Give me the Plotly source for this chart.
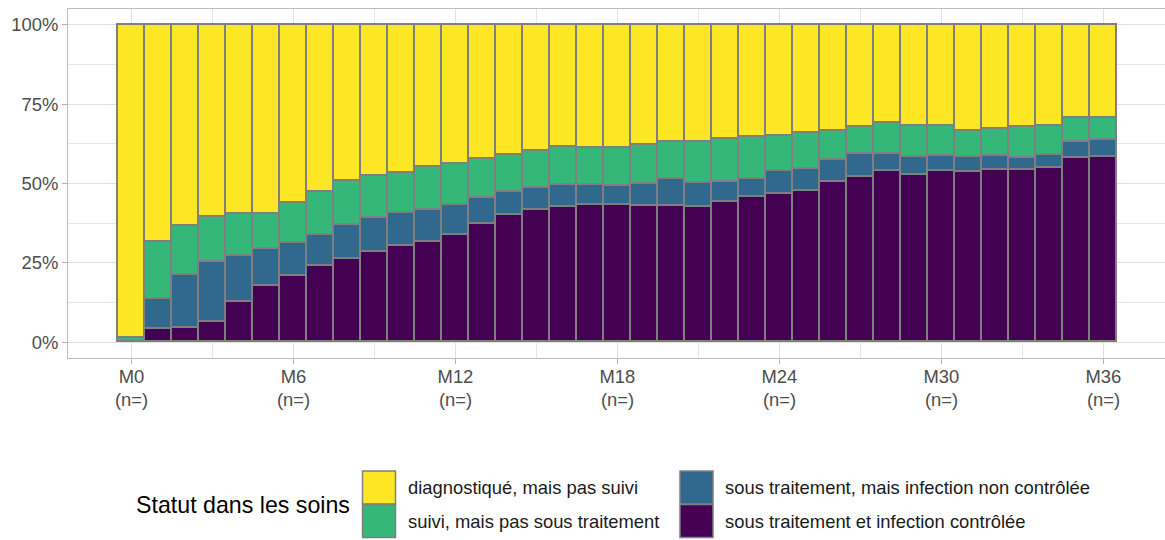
import plotly.graph_objects as go

# Months since diagnosis (M0 .. M36)
months = list(range(37))
tick_months = [0, 6, 12, 18, 24, 30, 36]
tick_labels = [f"M{m}" for m in tick_months]
tick_sublabels = ["(n=)" for _ in tick_months]

# Share of patients (%) in each care status, by month
controle = [0.0, 4.2, 4.5, 6.2, 12.6, 17.6, 21.0, 24.0, 26.1, 28.5, 30.3, 31.6, 33.7,
            37.1, 40.0, 41.6, 42.7, 43.1, 43.1, 42.8, 42.8, 42.6, 44.3, 45.6, 46.8,
            47.5, 50.6, 52.2, 54.0, 52.7, 53.8, 53.5, 54.2, 54.4, 55.0, 58.0, 58.4]
non_controle = [0.0, 9.5, 16.6, 19.1, 14.7, 11.7, 10.1, 9.7, 10.7, 10.5, 10.5, 10.0, 9.4,
                8.4, 7.4, 7.0, 6.8, 6.4, 6.1, 7.1, 8.5, 7.7, 6.3, 5.9, 7.1,
                7.0, 6.9, 7.2, 5.4, 5.7, 5.0, 4.7, 4.4, 3.6, 4.0, 5.2, 5.3]
suivi = [1.2, 17.8, 15.4, 14.1, 13.2, 11.2, 12.8, 13.6, 14.1, 13.3, 12.5, 13.5, 13.1,
         12.2, 11.5, 11.8, 12.0, 11.7, 12.0, 12.1, 11.7, 12.7, 13.4, 13.1, 11.0,
         11.3, 8.9, 8.4, 9.6, 9.6, 9.2, 8.3, 8.7, 9.8, 9.1, 7.4, 6.9]
diagnostique = [98.8, 68.5, 63.5, 60.6, 59.5, 59.5, 56.1, 52.7, 49.1, 47.7, 46.7, 44.9, 43.8,
                42.3, 41.1, 39.6, 38.5, 38.8, 38.8, 38.0, 37.0, 37.0, 36.0, 35.4, 35.1,
                34.2, 33.6, 32.2, 31.0, 32.0, 32.0, 33.5, 32.7, 32.2, 31.9, 29.4, 29.4]

y_ticks = [0, 25, 50, 75, 100]
y_tick_labels = ["0%", "25%", "50%", "75%", "100%"]

# Stack order, bottom to top
series = [
    ("sous traitement et infection contrôlée", controle, "#440154"),
    ("sous traitement, mais infection non contrôlée", non_controle, "#31688E"),
    ("suivi, mais pas sous traitement", suivi, "#35B779"),
    ("diagnostiqué, mais pas suivi", diagnostique, "#FDE725"),
]

FONT = "Liberation Sans, Arial, sans-serif"
OUTLINE = "#7f7f7f"
TICK_SIZE = 18.4

fig = go.Figure()
for name, vals, color in series:
    fig.add_trace(go.Bar(
        x=months, y=vals, name=name, width=1,
        marker=dict(color=color, line=dict(color=OUTLINE, width=1.6)),
        showlegend=False,
    ))

W, H = 1165, 540
L, R, T, B = 68, 1165, 9.3, 357.7


def px_x(x):
    return (x - L) / (R - L)


def px_y(y):
    return (B - y) / (B - T)


fig.update_layout(
    width=W, height=H,
    margin=dict(l=L, r=W - R, t=T, b=H - B),
    barmode="stack", bargap=0,
    paper_bgcolor="white", plot_bgcolor="white",
    font=dict(family=FONT, color="#4d4d4d", size=TICK_SIZE),
)

fig.update_xaxes(
    range=[-2.35, 38.28],
    tickmode="array", tickvals=tick_months, ticktext=tick_labels,
    ticks="outside", ticklen=5, tickcolor="#b3b3b3", tickwidth=1,
    ticklabelstandoff=-3,
    showgrid=True, gridcolor="#e0e0e0", gridwidth=1,
    minor=dict(tickmode="array", tickvals=[3, 9, 15, 21, 27, 33],
               showgrid=True, gridcolor="#e6e6e6", gridwidth=1, ticks=""),
    showline=True, linecolor="#bdbdbd", linewidth=1, mirror=True,
    zeroline=False,
    tickfont=dict(size=TICK_SIZE, color="#4d4d4d"),
)
fig.update_yaxes(
    range=[-5, 105],
    tickmode="array", tickvals=y_ticks, ticktext=y_tick_labels,
    ticks="outside", ticklen=5, tickcolor="#b3b3b3", tickwidth=1,
    showgrid=True, gridcolor="#e0e0e0", gridwidth=1,
    minor=dict(tickmode="array", tickvals=[12.5, 37.5, 62.5, 87.5],
               showgrid=True, gridcolor="#e6e6e6", gridwidth=1, ticks=""),
    showline=True, linecolor="#bdbdbd", linewidth=1, mirror=False,
    zeroline=False,
    tickfont=dict(size=TICK_SIZE, color="#4d4d4d"),
)

annotations = []
# Second line of each x tick label (group size)
for m, sub in zip(tick_months, tick_sublabels):
    annotations.append(dict(
        text=sub, xref="x", yref="paper", x=m, y=px_y(399),
        xanchor="center", yanchor="middle", showarrow=False,
        font=dict(family=FONT, size=TICK_SIZE, color="#4d4d4d"),
    ))

# Legend drawn below the panel: two columns of large keys
legend_order = [series[3], series[2], series[1], series[0]]
key_cols = [362.5, 680]
key_rows = [470.5, 504]
key = 33
shapes = []
annotations.append(dict(
    text="Statut dans les soins", xref="paper", yref="paper",
    x=px_x(134), y=px_y(504), xanchor="left", yanchor="middle",
    showarrow=False, font=dict(family=FONT, size=23.2, color="black"),
))
for i, (name, _, color) in enumerate(legend_order):
    cx = key_cols[i // 2]
    ry = key_rows[i % 2]
    shapes.append(dict(
        type="rect", xref="paper", yref="paper",
        x0=px_x(cx), x1=px_x(cx + key), y0=px_y(ry + key), y1=px_y(ry),
        fillcolor=color, line=dict(color=OUTLINE, width=1.5), layer="above",
    ))
    annotations.append(dict(
        text=name, xref="paper", yref="paper",
        x=px_x(cx + key + 10), y=px_y(ry + key / 2), xanchor="left", yanchor="middle",
        showarrow=False, font=dict(family=FONT, size=TICK_SIZE, color="#1a1a1a"),
    ))

fig.update_layout(shapes=shapes, annotations=annotations)

fig.write_html("out.html")
